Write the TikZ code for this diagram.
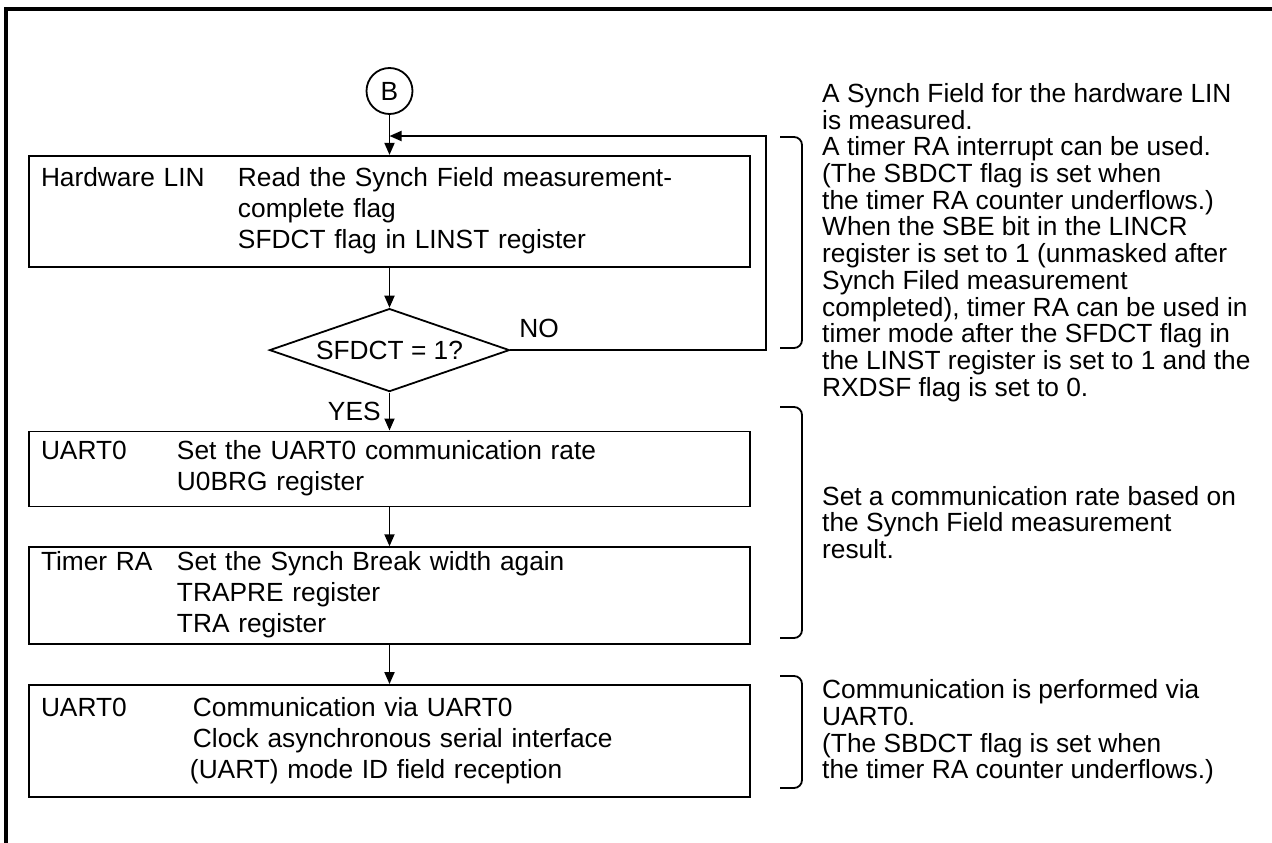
\documentclass[tikz,border=0pt]{standalone}
\usepackage{fontspec}
\setmainfont{Liberation Sans}
\usetikzlibrary{positioning,shapes.geometric,arrows.meta}

\newcommand{\boxfont}{\fontsize{26.3}{31}\selectfont}
\newcommand{\notefont}{\fontsize{26.3}{26.7}\selectfont}

\tikzset{
  flowbox/.style={draw, line width=1.8pt, minimum width=721pt, text width=697pt, inner xsep=12pt, inner ysep=2pt, align=left},
  decision/.style={draw, diamond, aspect=2.9, line width=1.8pt, minimum width=240pt, minimum height=83pt, inner sep=0pt},
  onpage/.style={draw, circle, line width=1.8pt, minimum size=46pt, inner sep=0pt},
  flow/.style={line width=1.8pt, -{Triangle[length=12pt, width=10pt]}},
  brace/.style={line width=1.8pt, rounded corners=8pt},
  note/.style={anchor=west, inner sep=0pt, align=left, font=\notefont},
}

\begin{document}
\begin{tikzpicture}[x=1pt, y=-1pt, every node/.style={font=\boxfont}]
\useasboundingbox (0,0) rectangle (1272,843);
% frame
\draw[line width=4pt] (6,843) -- (6,9.5) -- (1272,9.5);

\node[onpage] (b) at (389.5,91) {B};
\node[flowbox, minimum height=111pt, below=40pt of b] (lin) {\begin{tabular}{@{}p{197pt}@{}l@{}}Hardware LIN & Read the Synch Field measurement-\\ & complete flag\\ & SFDCT flag in LINST register\end{tabular}};
\node[decision, below=40pt of lin] (chk) {SFDCT = 1?};
\node[flowbox, minimum height=75pt, below=38pt of chk] (rate) {\begin{tabular}{@{}p{136pt}@{}l@{}}UART0 & Set the UART0 communication rate\\ & U0BRG register\end{tabular}};
\node[flowbox, minimum height=97pt, below=39pt of rate] (brk) {\begin{tabular}{@{}p{136pt}@{}l@{}}Timer RA & Set the Synch Break width again\\ & TRAPRE register\\ & TRA register\end{tabular}};
\node[flowbox, minimum height=112pt, below=39pt of brk] (rx) {\begin{tabular}{@{}p{152pt}@{}l@{}}UART0 & Communication via UART0\\ & Clock asynchronous serial interface\\ & \hspace*{-3pt}(UART) mode ID field reception\end{tabular}};

\coordinate (join) at (389.5,136);
\coordinate (back) at (766,136);

\draw[flow] (b) -- (lin);
\draw[flow] (lin) -- (chk);
\draw[flow] (chk) -- node[left, inner sep=8pt] {YES} (rate);
\draw[flow] (rate) -- (brk);
\draw[flow] (brk) -- (rx);
\draw[flow] (chk.east) -- node[pos=0, anchor=south west, inner sep=0pt, xshift=8pt, yshift=11pt] {NO} (chk.east -| back) -- (back) -- (join);

% notes
\draw[brace] (780,137) -- (802,137) -- (802,348) -- (780,348);
\draw[brace] (780,407) -- (802,407) -- (802,638) -- (780,638);
\draw[brace] (780,676) -- (802,676) -- (802,788) -- (780,788);

\node[note] (n1) at (822,242.5) {A Synch Field for the hardware LIN\\is measured.\\A timer RA interrupt can be used.\\(The SBDCT flag is set when\\the timer RA counter underflows.)\\When the SBE bit in the LINCR\\register is set to 1 (unmasked after\\Synch Filed measurement\\completed), timer RA can be used in\\timer mode after the SFDCT flag in\\the LINST register is set to 1 and the\\RXDSF flag is set to 0.};
\node[note] (n2) at (822,522.5) {Set a communication rate based on\\the Synch Field measurement\\result.};
\node[note] (n3) at (822,732) {Communication is performed via\\UART0.\\(The SBDCT flag is set when\\the timer RA counter underflows.)};
\end{tikzpicture}
\end{document}
